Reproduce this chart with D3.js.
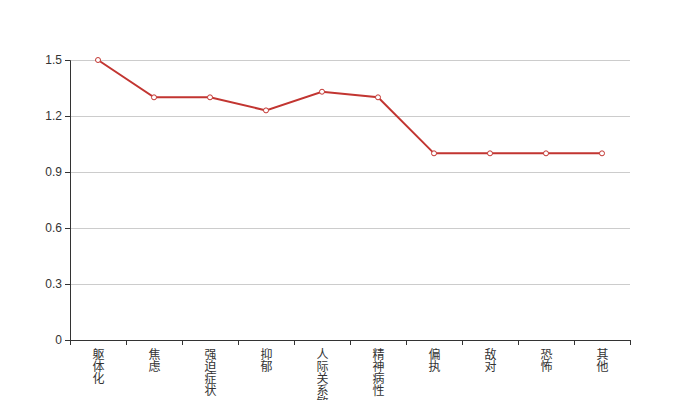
<!DOCTYPE html>
<html><head><meta charset="utf-8">
<script src="https://cdn.jsdelivr.net/npm/d3@7"></script>
<style>body{margin:0;background:#fff;} text{font-family:"Liberation Sans","Noto Sans CJK SC",sans-serif;}</style>
</head><body><svg id="c" width="700" height="400"></svg>
<script>
const categories = ["躯体化","焦虑","强迫症状","抑郁","人际关系敏感","精神病性","偏执","敌对","恐怖","其他"];
const values = [1.5,1.3,1.3,1.23,1.33,1.3,1.0,1.0,1.0,1.0];
const yTicks = [0,0.3,0.6,0.9,1.2,1.5];

const svg = d3.select("#c");
const x = d3.scaleBand().domain(categories).range([70,630]);
const y = d3.scaleLinear().domain([0,1.5]).range([340,60]);

// grid
svg.append("g").selectAll("line").data(yTicks.filter(d=>d>0)).join("line")
  .attr("x1",70).attr("x2",630).attr("y1",d=>y(d)).attr("y2",d=>y(d))
  .attr("stroke","#ccc").attr("stroke-width",1).attr("shape-rendering","crispEdges");

// y axis
const ya = svg.append("g").attr("transform","translate(70,0)")
  .call(d3.axisLeft(y).tickValues(yTicks).tickSize(5).tickPadding(3).tickFormat(d=>d===0?"0":d3.format(".1f")(d)));
ya.select(".domain").attr("stroke","#333");
ya.selectAll(".tick line").attr("stroke","#333");
ya.selectAll("text").attr("fill","#333").attr("font-size",12);

// x axis
const xa = svg.append("g").attr("transform","translate(0,340)");
xa.append("line").attr("x1",70).attr("x2",630).attr("stroke","#333").attr("shape-rendering","crispEdges");
const edges = categories.map(c=>x(c)).concat([630]);
xa.selectAll("line.t").data(edges).join("line").attr("class","t")
  .attr("x1",d=>d).attr("x2",d=>d).attr("y1",0).attr("y2",5).attr("stroke","#333").attr("shape-rendering","crispEdges");
xa.selectAll("text.l").data(categories).join("text").attr("class","l")
  .attr("fill","#333").attr("font-size",12)
  .style("writing-mode","vertical-rl").style("text-orientation","upright")
  .attr("x",c=>x(c)+x.bandwidth()/2-1).attr("y",8)
  .text(c=>c);

// line
const line = d3.line().x((d,i)=>x(categories[i])+x.bandwidth()/2).y(d=>y(d));
svg.append("path").datum(values).attr("d",line).attr("fill","none").attr("stroke","#c23531").attr("stroke-width",2);
svg.append("g").selectAll("circle").data(values).join("circle")
  .attr("cx",(d,i)=>x(categories[i])+x.bandwidth()/2).attr("cy",d=>y(d)).attr("r",2.5)
  .attr("fill","#fff").attr("stroke","#c23531").attr("stroke-width",1);
</script></body></html>
